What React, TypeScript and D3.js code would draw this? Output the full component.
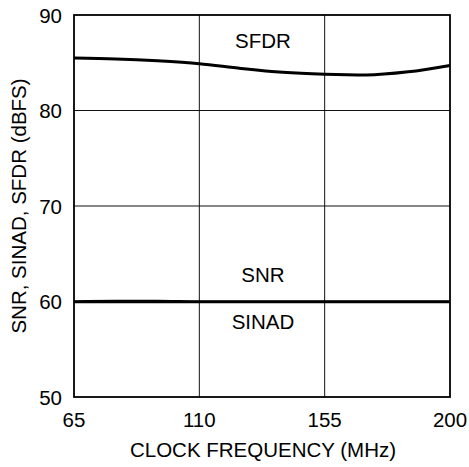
import React from "react";
import * as d3 from "d3";

// Clock frequency sweep (MHz)
const clockMHz = [65, 80, 95, 110, 125, 140, 155, 170, 185, 200];
// Spurious-free dynamic range (dBFS)
const sfdr = [85.5, 85.4, 85.2, 84.9, 84.4, 84.0, 83.8, 83.72, 84.05, 84.72];
// Signal-to-noise ratio (dBFS)
const snr = [60.0, 60.05, 60.05, 60.0, 60.0, 60.0, 60.0, 60.0, 60.0, 60.0];
// Signal-to-noise-and-distortion (dBFS)
const sinad = [59.95, 59.95, 59.95, 59.95, 59.95, 59.95, 59.95, 59.95, 59.95, 59.95];

const xTicks = [65, 110, 155, 200];
const yTicks = [50, 60, 70, 80, 90];

const W = 469;
const H = 467;
const M = { left: 74, right: 19, top: 15, bottom: 70 };
const FONT = "'Liberation Sans', Arial, Helvetica, sans-serif";

export default function App() {
  const x = d3.scaleLinear().domain([65, 200]).range([M.left, W - M.right]);
  const y = d3.scaleLinear().domain([50, 90]).range([H - M.bottom, M.top]);

  const curve = (vals: number[]) =>
    d3
      .line<number>()
      .x((_, i) => x(clockMHz[i]))
      .y((v) => y(v))
      .curve(d3.curveMonotoneX)(vals) || "";

  const [x0, x1] = x.range();
  const [y0, y1] = y.range();

  return (
    <svg
      width={W}
      height={H}
      style={{ position: "absolute", left: 0, top: 0, background: "#fff" }}
      fontFamily={FONT}
    >
      {/* grid */}
      {xTicks.slice(1, -1).map((t) => (
        <line key={"gx" + t} x1={x(t)} x2={x(t)} y1={y1} y2={y0} stroke="#111" strokeWidth={1} />
      ))}
      {yTicks.slice(1, -1).map((t) => (
        <line key={"gy" + t} x1={x0} x2={x1} y1={y(t)} y2={y(t)} stroke="#111" strokeWidth={1} />
      ))}
      {/* frame */}
      <rect x={x0} y={y1} width={x1 - x0} height={y0 - y1} fill="none" stroke="#000" strokeWidth={1.8} />

      {/* series */}
      <path d={curve(sfdr)} fill="none" stroke="#000" strokeWidth={3} />
      <path d={curve(snr)} fill="none" stroke="#000" strokeWidth={2.6} />
      <path d={curve(sinad)} fill="none" stroke="#000" strokeWidth={2.6} />

      {/* tick labels */}
      {yTicks.map((t) => (
        <text
          key={"ty" + t}
          x={x0 - 12}
          y={y(t)}
          textAnchor="end"
          dominantBaseline="central"
          fontSize={20.5}
          fill="#000"
        >
          {t}
        </text>
      ))}
      {xTicks.map((t) => (
        <text key={"tx" + t} x={x(t)} y={427} textAnchor="middle" fontSize={20.5} fill="#000">
          {t}
        </text>
      ))}

      {/* axis titles */}
      <text x={(x0 + x1) / 2 + 1} y={457} textAnchor="middle" fontSize={20.5} fill="#000">
        CLOCK FREQUENCY (MHz)
      </text>
      <text
        transform={`translate(26, ${(y0 + y1) / 2}) rotate(-90)`}
        textAnchor="middle"
        fontSize={20.5}
        fill="#000"
      >
        SNR, SINAD, SFDR (dBFS)
      </text>

      {/* series labels */}
      <text x={263} y={48} textAnchor="middle" fontSize={20.5} fill="#000">SFDR</text>
      <text x={263} y={282} textAnchor="middle" fontSize={20.5} fill="#000">SNR</text>
      <text x={263} y={329} textAnchor="middle" fontSize={20.5} fill="#000">SINAD</text>
    </svg>
  );
}
